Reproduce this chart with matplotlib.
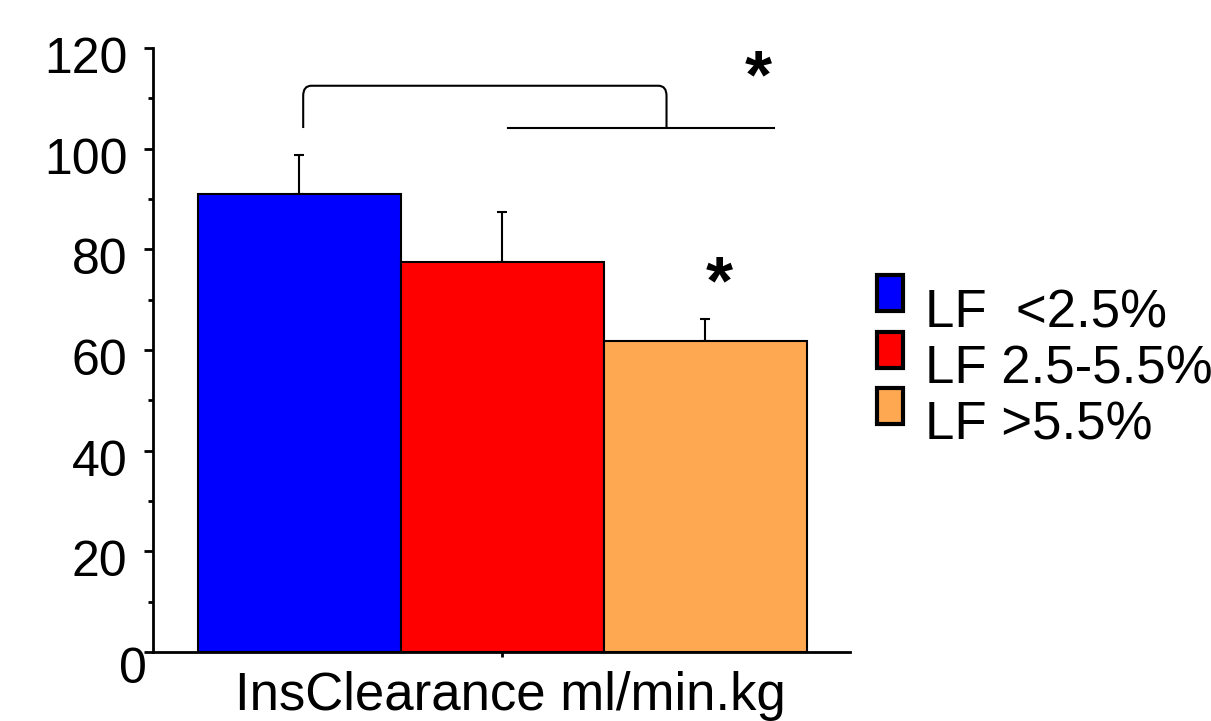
import matplotlib
matplotlib.use("Agg")
from matplotlib import pyplot as plt
from matplotlib.path import Path
from matplotlib.patches import PathPatch, Rectangle
import matplotlib.transforms as mtransforms

plt.rcParams['font.family'] = ['Liberation Sans', 'DejaVu Sans']

# Data
groups = ["LF  <2.5%", "LF 2.5-5.5%", "LF >5.5%"]
means = [91.0, 77.5, 61.8]
errors = [7.7, 9.9, 4.4]
colors = ["#0000ff", "#ff0000", "#ffa852"]
category = "InsClearance ml/min.kg"

W, H = 1211, 721
fig = plt.figure(figsize=(W / 100, H / 100), dpi=100)
ax = fig.add_axes([153 / W, 69 / H, 697 / W, 604 / H])

positions = [0, 1, 2]
ax.bar(positions, means, width=1.0, color=colors, edgecolor="black", linewidth=1.5, zorder=2)
ax.errorbar(positions, means, yerr=[[0, 0, 0], errors], fmt="none", ecolor="black",
            elinewidth=1.5, capsize=3.5, capthick=1.5, zorder=1)

ax.set_xlim(-0.72, 2.714)
ax.set_ylim(0, 120)
ax.set_yticks(range(0, 121, 20))
ax.set_yticks(range(10, 120, 20), minor=True)
ax.set_xticks([1])
ax.set_xticklabels([category])
ax.tick_params(axis="y", which="major", length=6.5, width=2, labelsize=36, pad=12)
ax.tick_params(axis="y", which="minor", length=3.5, width=2)
ax.tick_params(axis="x", length=3.5, width=2, labelsize=38, pad=10)
for s in ["top", "right"]:
    ax.spines[s].set_visible(False)
for s in ["left", "bottom"]:
    ax.spines[s].set_linewidth(2)

# tick labels sit a little below their ticks in the original
for i, lbl in enumerate(ax.get_yticklabels()):
    if i == 0:
        off = mtransforms.ScaledTranslation(0.2, -0.13, fig.dpi_scale_trans)
    else:
        off = mtransforms.ScaledTranslation(0, -0.07, fig.dpi_scale_trans)
    lbl.set_transform(lbl.get_transform() + off)
xl = ax.get_xticklabels()[0]
xl.set_transform(xl.get_transform() + mtransforms.ScaledTranslation(0.08, 0, fig.dpi_scale_trans))

# significance bracket
x0, x1, ylo, yhi, r = 0.02, 1.81, 104.1, 112.5, 0.04
verts = [(x0, ylo), (x0, yhi - 2), (x0, yhi), (x0 + r, yhi),
         (x1 - r, yhi), (x1, yhi), (x1, yhi - 2), (x1, ylo)]
codes = [Path.MOVETO, Path.LINETO, Path.CURVE3, Path.CURVE3,
         Path.LINETO, Path.CURVE3, Path.CURVE3, Path.LINETO]
ax.add_patch(PathPatch(Path(verts, codes), fill=False, lw=1.5, color="black", clip_on=False))
ax.plot([1.03, 2.34], [104.1, 104.1], color="black", lw=1.5, clip_on=False)
ax.text(2.26, 113.8, "*", fontsize=50, fontweight="bold", ha="center", va="center")
ax.text(2.07, 72.8, "*", fontsize=50, fontweight="bold", ha="center", va="center")

# legend drawn by hand to match the original spacing
row_tops = [275, 332, 388]
for c, g, top in zip(colors, groups, row_tops):
    fig.add_artist(Rectangle((877 / W, 1 - (top + 36) / H), 26 / W, 36 / H,
                             facecolor=c, edgecolor="black", linewidth=3,
                             transform=fig.transFigure))
    fig.text(925 / W, 1 - (top + 52) / H, g, fontsize=38, ha="left", va="baseline")

fig.savefig("out.png", dpi=100)
